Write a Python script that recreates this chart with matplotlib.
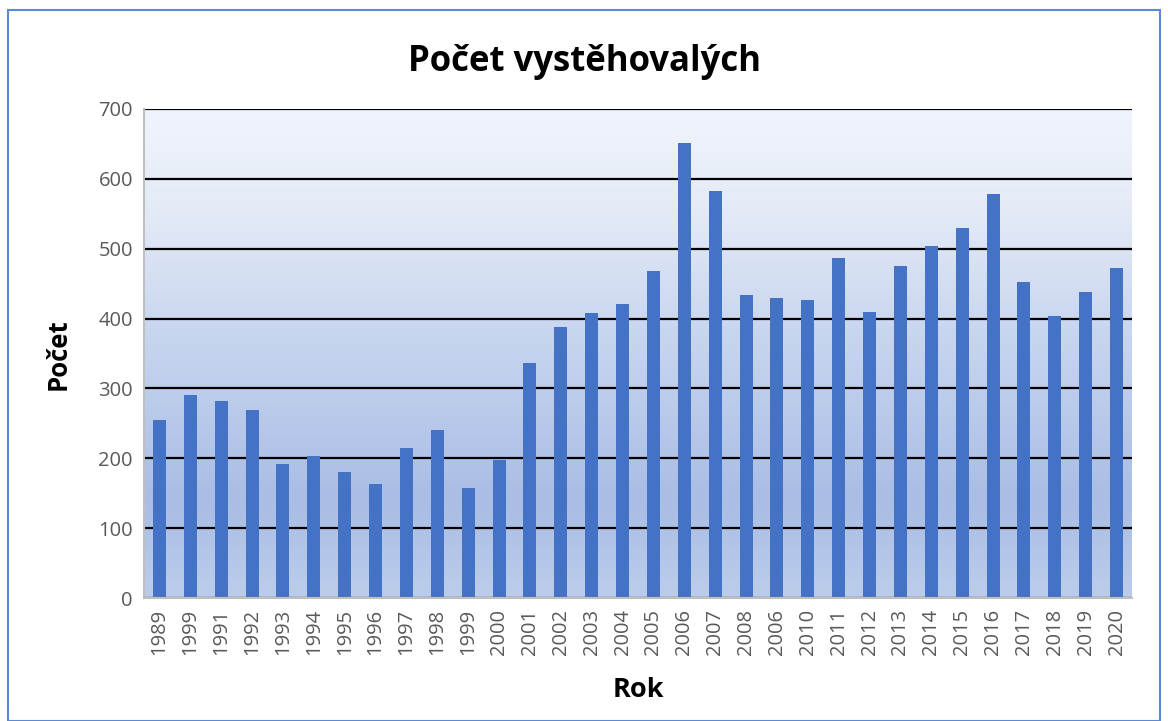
import numpy as np
import matplotlib
matplotlib.use("Agg")
from matplotlib import pyplot as plt, patches
from matplotlib.colors import LinearSegmentedColormap

# labels exactly as in the source chart (typos included)
years = ["1989", "1999", "1991", "1992", "1993", "1994", "1995", "1996", "1997", "1998",
         "1999", "2000", "2001", "2002", "2003", "2004", "2005", "2006", "2007", "2008",
         "2006", "2010", "2011", "2012", "2013", "2014", "2015", "2016", "2017", "2018",
         "2019", "2020"]
counts = [255, 290, 282, 269, 192, 203, 181, 163, 215, 241,
          158, 198, 337, 388, 408, 421, 468, 651, 582, 434,
          430, 427, 486, 409, 475, 504, 530, 578, 453, 404,
          438, 473]
y_ticks = [0, 100, 200, 300, 400, 500, 600, 700]

plt.rcParams["font.family"] = ["Open Sans", "DejaVu Sans"]

W, H = 1168, 721
fig = plt.figure(figsize=(W / 100, H / 100), dpi=100)
ax = fig.add_axes([144 / W, 1 - 598 / H, (1132 - 144) / W, (598 - 109) / H])

# outer chart border
fig.patches.append(patches.Rectangle((8 / W, 0), 1 - 16 / W, 1 - 10 / H,
                                     transform=fig.transFigure, fill=False,
                                     edgecolor="#5b8bd6", linewidth=1.5))

x = np.arange(len(years))
ax.set_xlim(-0.5, len(years) - 0.5)
ax.set_ylim(0, 700)

# gradient plot background
grad = LinearSegmentedColormap.from_list(
    "bg", [(0.0, "#bccdeb"), (0.2, "#a9bde5"), (0.55, "#c9d6ef"), (0.8, "#e4ebf7"), (1.0, "#f0f4fc")])
ax.imshow(np.linspace(0, 1, 256).reshape(-1, 1), cmap=grad, aspect="auto",
          extent=(-0.5, len(years) - 0.5, 0, 700), origin="lower", zorder=0)

ax.set_yticks(y_ticks)
ax.yaxis.grid(True, color="black", linewidth=1.6, zorder=1)
ax.set_axisbelow(True)

ax.bar(x, counts, width=0.42, color="#4472c4", zorder=2)

ax.set_xticks(x)
ax.set_xticklabels(years, rotation=90)
ax.tick_params(axis="both", length=0, labelsize=14.5, colors="#595959", pad=8)

for side in ["top", "right"]:
    ax.spines[side].set_visible(False)
for side in ["left", "bottom"]:
    ax.spines[side].set_color("#bfbfbf")
    ax.spines[side].set_linewidth(1.5)

fig.text(0.5, 1 - 62 / H, "Počet vystěhovalých", ha="center", va="center",
         fontsize=25, fontweight="bold")
fig.text(58 / W, 1 - 354 / H, "Počet", ha="center", va="center", rotation=90,
         fontsize=18.5, fontweight="bold")
fig.text(638 / W, 1 - 690 / H, "Rok", ha="center", va="center",
         fontsize=19.5, fontweight="bold")

fig.savefig("out.png", dpi=100)
